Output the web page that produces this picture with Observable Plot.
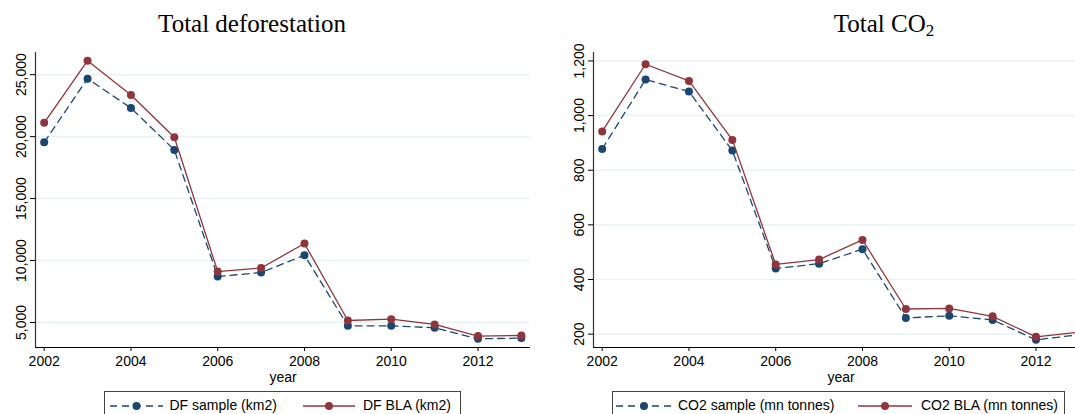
<!DOCTYPE html>
<html><head><meta charset="utf-8">
<script src="https://cdn.jsdelivr.net/npm/d3@7"></script>
<script src="https://cdn.jsdelivr.net/npm/@observablehq/plot@0.6"></script>
<style>
html,body{margin:0;padding:0;background:#fff;overflow:hidden;}
#fig{position:relative;width:1075px;height:414px;overflow:hidden;background:#fff;font-family:"Liberation Sans",Arial,sans-serif;color:#000;}
.panel{position:absolute;top:0;}
.title{position:absolute;top:11px;font-family:"Liberation Serif","Times New Roman",serif;font-size:25px;line-height:25px;white-space:nowrap;transform:translateX(-50%);}
.title sub{font-size:17px;vertical-align:-4px;line-height:0;}
.legbox{position:absolute;top:391px;height:40px;border:1px solid #444;box-sizing:border-box;}
.legtxt{position:absolute;top:398px;font-size:14px;line-height:14px;white-space:nowrap;}
.sw{position:absolute;top:399px;height:14px;overflow:visible;}
</style></head>
<body>
<div id="fig"></div>
<script>
// ---- data ----
const years = [2002, 2003, 2004, 2005, 2006, 2007, 2008, 2009, 2010, 2011, 2012, 2013];
const dfSample = [19540, 24680, 22310, 18930, 8710, 9030, 10430, 4730, 4730, 4570, 3680, 3740];
const dfBLA = [21110, 26130, 23360, 19950, 9110, 9400, 11370, 5160, 5270, 4840, 3900, 3950];
const co2Sample = [878, 1132, 1088, 872, 440, 458, 511, 259, 267, 252, 179, 198];
const co2BLA = [942, 1188, 1127, 911, 455, 473, 545, 292, 294, 265, 190, 207];
const xTicks = [2002, 2004, 2006, 2008, 2010, 2012];
const dfTicks = [5000, 10000, 15000, 20000, 25000];
const co2Ticks = [200, 400, 600, 800, 1000, 1200];
const xLabel = "year";
const titles = ["Total deforestation", "Total CO<sub>2</sub>"];
const legendLabels = [["DF sample (km2)", "DF BLA (km2)"], ["CO2 sample (mn tonnes)", "CO2 BLA (mn tonnes)"]];

const navy = "#1a476f", maroon = "#90353b";
const xDomain = [2001.8, 2013.21];
const fmt = d3.format(",.0f");

function panel(sample, bla, yDomain, yTicks) {
  const rows = years.map((y, i) => ({year: y, sample: sample[i], bla: bla[i]}));
  return Plot.plot({
    width: 540, height: 414,
    marginLeft: 35, marginRight: 10, marginTop: 52, marginBottom: 67,
    style: {fontSize: "14px", fontFamily: "Liberation Sans, Arial, sans-serif", background: "transparent", color: "#000", overflow: "visible"},
    x: {domain: xDomain, label: null},
    y: {domain: yDomain, label: null},
    marks: [
      Plot.gridY(yTicks, {stroke: "#eaf2f3", strokeOpacity: 1, strokeWidth: 1.5}),
      Plot.ruleY([yDomain[0]], {stroke: "#000", strokeWidth: 1}),
      Plot.ruleX([xDomain[0]], {stroke: "#333", strokeWidth: 1.2}),
      Plot.axisY(yTicks, {tickFormat: fmt, tickRotate: -90, tickSize: 5, tickPadding: 5, label: null}),
      Plot.axisX(xTicks, {tickFormat: d => String(d), tickSize: 4, tickPadding: 5, label: null}),
      Plot.text([xLabel], {frameAnchor: "bottom", lineAnchor: "middle", dy: 30, text: d => d, fontSize: 14}),
      Plot.line(rows, {x: "year", y: "sample", stroke: navy, strokeWidth: 1.3, strokeDasharray: "7,5"}),
      Plot.dot(rows, {x: "year", y: "sample", r: 4, fill: navy}),
      Plot.line(rows, {x: "year", y: "bla", stroke: maroon, strokeWidth: 1.3}),
      Plot.dot(rows, {x: "year", y: "bla", r: 4, fill: maroon})
    ]
  });
}

const fig = document.getElementById("fig");
const p1 = panel(dfSample, dfBLA, [2980, 26790], dfTicks);
p1.classList.add("panel"); p1.style.left = "0px";
fig.appendChild(p1);
const p2 = panel(co2Sample, co2BLA, [151, 1231], co2Ticks);
p2.classList.add("panel"); p2.style.left = "557.5px";
fig.appendChild(p2);

function addTitle(html, cx) {
  const d = document.createElement("div");
  d.className = "title"; d.style.left = cx + "px"; d.innerHTML = html;
  fig.appendChild(d);
}
addTitle(titles[0], 252);
addTitle(titles[1], 884);

function swatch(x0, x1, color, dashed) {
  const w = x1 - x0;
  const ns = "http://www.w3.org/2000/svg";
  const s = document.createElementNS(ns, "svg");
  s.setAttribute("class", "sw");
  s.setAttribute("width", w); s.setAttribute("height", 14);
  s.style.left = x0 + "px";
  const l = document.createElementNS(ns, "line");
  l.setAttribute("x1", 0); l.setAttribute("x2", w); l.setAttribute("y1", 7); l.setAttribute("y2", 7);
  l.setAttribute("stroke", color); l.setAttribute("stroke-width", 1.3);
  if (dashed) l.setAttribute("stroke-dasharray", "7,5");
  s.appendChild(l);
  const c = document.createElementNS(ns, "circle");
  c.setAttribute("cx", w / 2); c.setAttribute("cy", 7); c.setAttribute("r", 4); c.setAttribute("fill", color);
  s.appendChild(c);
  fig.appendChild(s);
}
function text(t, x) {
  const d = document.createElement("div");
  d.className = "legtxt"; d.style.left = x + "px"; d.textContent = t;
  fig.appendChild(d);
}
function legend(x0, x1, labels, s1, t1, s2, t2) {
  const b = document.createElement("div");
  b.className = "legbox"; b.style.left = x0 + "px"; b.style.width = (x1 - x0) + "px";
  fig.appendChild(b);
  swatch(s1[0], s1[1], navy, true); text(labels[0], t1);
  swatch(s2[0], s2[1], maroon, false); text(labels[1], t2);
}
legend(104, 461, legendLabels[0], [109.5, 162.5], 169.5, [303, 355], 363);
legend(612, 1065, legendLabels[1], [616, 672], 678, [858, 912], 921);
</script>
</body></html>
